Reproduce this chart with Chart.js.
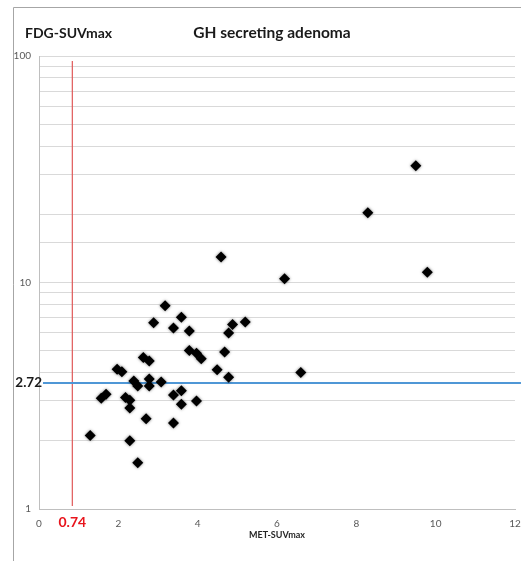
<!DOCTYPE html>
<html>
<head>
<meta charset="utf-8">
<title>GH secreting adenoma</title>
<script src="https://cdn.jsdelivr.net/npm/chart.js@4/dist/chart.umd.min.js"></script>
<style>
  html, body { margin: 0; padding: 0; background: #fff; }
  #chart { display: block; }
</style>
</head>
<body>
<canvas id="chart" width="521" height="561"></canvas>
<script>
"use strict";

// ── Data ───────────────────────────────────────────────────────────────────
const metSuv = [1.29, 1.57, 1.69, 1.97, 2.09, 2.18, 2.29, 2.29, 2.29, 2.39,
                2.49, 2.49, 2.63, 2.70, 2.78, 2.78, 2.78, 2.89, 3.08, 3.18,
                3.39, 3.39, 3.39, 3.59, 3.59, 3.59, 3.79, 3.79, 3.97, 4.09,
                3.97, 4.49, 4.68, 4.78, 4.88, 4.78, 5.20, 4.59, 6.19, 6.60,
                9.50, 8.29, 9.79];
const fdgSuv = [2.11, 3.08, 3.21, 4.14, 4.04, 3.11, 3.02, 2.79, 2.00, 3.67,
                3.49, 1.60, 4.67, 2.50, 4.50, 3.75, 3.49, 6.64, 3.64, 7.89,
                6.29, 3.19, 2.40, 7.03, 3.33, 2.90, 6.10, 5.01, 4.87, 4.61,
                3.00, 4.12, 4.93, 5.98, 6.53, 3.82, 6.70, 12.97, 10.4, 4.01,
                32.8, 20.3, 11.1];

const xTicks = [0, 2, 4, 6, 8, 10, 12];
const yMajorTicks = [1, 10, 100];

// cut-off lines: where they sit in the picture, and the label written next to them
const cutoffXLabel = "0.74";
const cutoffX = [0.84, 0.84];
const cutoffXSpan = [1.03, 95];
const cutoffYLabel = "2.72";
const cutoffY = [3.6, 3.6];
const cutoffYSpan = [0.1, 12.15];

const FONT = "Lato, 'Open Sans', sans-serif";

// ── Decorations: frame, titles, cut-off labels ─────────────────────────────
const decorations = {
  id: "decorations",
  beforeDraw(chart) {
    const ctx = chart.ctx;
    ctx.save();
    ctx.fillStyle = "#fff";
    ctx.fillRect(0, 0, chart.width, chart.height);
    ctx.strokeStyle = "#a6a6a6";
    ctx.lineWidth = 1;
    ctx.beginPath();
    ctx.moveTo(13.5, chart.height);
    ctx.lineTo(13.5, 7.5);
    ctx.lineTo(chart.width, 7.5);
    ctx.stroke();
    ctx.restore();
  },
  afterDraw(chart) {
    const ctx = chart.ctx;
    const x = chart.scales.x;
    const y = chart.scales.y;
    ctx.save();
    ctx.textBaseline = "middle";

    ctx.fillStyle = "#1a1a1a";
    ctx.font = "bold 15.5px " + FONT;
    ctx.textAlign = "center";
    ctx.fillText("GH secreting adenoma", 272, 33);

    ctx.font = "bold 14px " + FONT;
    ctx.textAlign = "left";
    ctx.fillText("FDG-SUVmax", 25, 33);

    ctx.font = "bold 13.5px " + FONT;
    ctx.textAlign = "right";
    ctx.fillText(cutoffYLabel, x.left + 3, y.getPixelForValue(cutoffY[0]));

    ctx.fillStyle = "#e8141c";
    ctx.font = "bold 14px " + FONT;
    ctx.textAlign = "center";
    ctx.fillText(cutoffXLabel, x.getPixelForValue(cutoffX[0]), 522);

    ctx.fillStyle = "#262626";
    ctx.font = "bold 9px " + FONT;
    ctx.fillText("MET-SUVmax", x.getPixelForValue(6), 535);
    ctx.restore();
  },
  beforeDatasetDraw(chart, args) {
    if (args.index !== 0) return;
    const ctx = chart.ctx;
    ctx.save();
    ctx.shadowColor = "rgba(0,0,0,0.55)";
    ctx.shadowBlur = 3;
  },
  afterDatasetDraw(chart, args) {
    if (args.index !== 0) return;
    chart.ctx.restore();
  },
};

// ── Chart ──────────────────────────────────────────────────────────────────
new Chart(document.getElementById("chart"), {
  type: "scatter",
  data: {
    datasets: [
      {
        label: "Patients",
        data: metSuv.map((v, i) => ({ x: v, y: fdgSuv[i] })),
        pointStyle: "rectRot",
        pointRadius: 5.5,
        backgroundColor: "#000",
        borderColor: "#000",
        borderWidth: 0,
      },
      {
        type: "line",
        label: "FDG cut-off",
        data: cutoffYSpan.map((v, i) => ({ x: v, y: cutoffY[i] })),
        borderColor: "#4f97d6",
        borderWidth: 2,
        pointRadius: 0,
        clip: false,
      },
      {
        type: "line",
        label: "MET cut-off",
        data: cutoffXSpan.map((v, i) => ({ x: cutoffX[i], y: v })),
        borderColor: "#e05858",
        borderWidth: 1.2,
        pointRadius: 0,
        clip: false,
      },
    ],
  },
  options: {
    responsive: false,
    animation: false,
    layout: { padding: { top: 56, right: 6, left: 0, bottom: 0 } },
    plugins: { legend: { display: false }, tooltip: { enabled: false } },
    scales: {
      x: {
        type: "linear",
        min: 0,
        max: 12,
        afterFit: (s) => {
          s.height = 52;
          s.paddingLeft = 0;
          s.paddingRight = 0;
        },
        afterBuildTicks: (s) => { s.ticks = xTicks.map((v) => ({ value: v })); },
        grid: { display: false, drawTicks: false },
        border: { display: true, color: "#bfbfbf", width: 1 },
        ticks: {
          padding: 9,
          color: "#595959",
          font: { family: FONT, size: 10 },
          maxRotation: 0,
        },
      },
      y: {
        type: "logarithmic",
        min: 1,
        max: 100,
        afterFit: (s) => { s.width = 39; },
        grid: { color: "#d9d9d9", drawTicks: false },
        border: { display: true, color: "#bfbfbf", width: 1 },
        ticks: {
          autoSkip: false,
          padding: 8,
          color: "#595959",
          font: { family: FONT, size: 10 },
          callback: (v) => (yMajorTicks.includes(v) ? String(v) : ""),
        },
      },
    },
  },
  plugins: [decorations],
});
</script>
</body>
</html>
